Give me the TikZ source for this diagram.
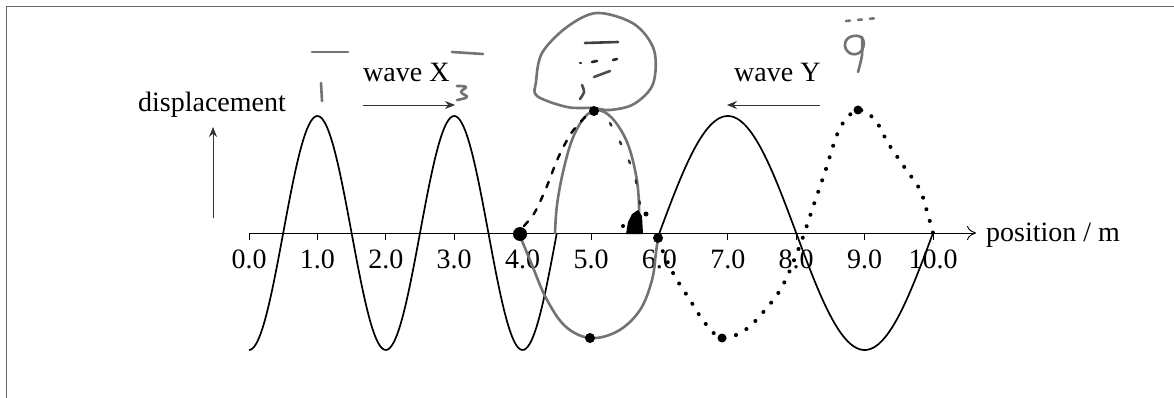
\documentclass[tikz,border=0pt]{standalone}
\usepackage{fontspec}
\setmainfont{Liberation Serif}
\usetikzlibrary{arrows.meta}
\begin{document}
\begin{tikzpicture}[x=1pt,y=-1pt,
  lbl/.style={inner sep=0pt, font=\fontsize{28}{32}\selectfont},
  wave/.style={line width=1.7pt, black},
  hand/.style={line width=2.6pt, black!55, line cap=round, line join=round},
  inkline/.style={line width=2.4pt, black, line cap=round},
  thinarrow/.style={line width=0.8pt, black!80, -{Stealth[length=10pt,width=8pt]}},
  blob/.style={fill=black, inner sep=0pt, circle},
]
\useasboundingbox (0,0) rectangle (1174,398);
% frame
\draw[black!60, line width=1pt] (6,410) -- (6,7) -- (1180,7);

% axis
\coordinate (ax0) at (249,233);
\coordinate (axend) at (976,233);
\draw[line width=0.9pt, -{To[length=9pt,width=14pt]}] (ax0) -- (axend);
\foreach \k in {0,...,10}{
  \draw[line width=0.8pt] ({249+68.4*\k},233) -- ++(0,7);
  \node[lbl, anchor=base] (t\k) at ({249+68.4*\k},268) {\k.0};
}
\node[lbl, anchor=base west] (pos) at (986,241) {position / m};

% displacement label and arrow
\node[lbl, anchor=base] (disp) at (212,112) {displacement};
\coordinate (dA) at (213,218);
\coordinate (dB) at (213,127);
\draw[thinarrow] (dA) -- (dB);

% wave labels and arrows
\node[lbl, anchor=base west] (wx) at (363,82) {wave X};
\node[lbl, anchor=base west] (wy) at (734,82) {wave Y};
\coordinate (xA) at (363,105);
\coordinate (xB) at (455,105);
\coordinate (yA) at (820,105);
\coordinate (yB) at (727,105);
\draw[thinarrow] (xA) -- (xB);
\draw[thinarrow] (yA) -- (yB);

% waves
\draw[wave] plot[domain=0:4.5, samples=160, smooth] ({249+68.4*\x},{233+117*cos(180*\x)});
\draw[wave] plot[domain=6:10, samples=120, smooth] ({249+68.4*\x},{233-117*sin(90*(\x-6))});

% hand-drawn marks: 1 and 3
\draw[hand] (312,52) -- (348,52);
\draw[hand] (321,83) -- (322,101);
\draw[hand] (452,52) -- (483,54);
\draw[hand] plot[smooth, tension=0.7] coordinates {(457,86) (466,87) (461,92) (467,97) (457,100)};

% head circle with marks
\draw[hand] plot[smooth cycle, tension=0.55] coordinates {(597,13) (634,24) (654,50) (653,84) (634,104) (610,110) (593,108) (567,107) (537,96) (536,82) (542,53) (567,27)};
\draw[hand, black!75] (585,43) -- (618,42);
\draw[hand, black!85] (580,63) -- (581,63);
\draw[hand, black!85] (592,62) -- (597,61);
\draw[hand, black!85] (613,60) -- (617,59);
\draw[hand, black!70] (594,77) -- (610,71);
\draw[hand, black!70] plot[smooth] coordinates {(582,85) (584,92) (580,99)};

% loop drawn over the middle
\draw[hand] plot[smooth, tension=0.6] coordinates {(555,233) (557,205) (563,172) (572,140) (584,118) (597,110) (612,118) (627,142) (636,175) (639,205) (638,233)};
\draw[hand] plot[smooth, tension=0.6] coordinates {(520,236) (532,265) (546,298) (565,326) (590,338) (618,331) (640,310) (652,280) (656,252) (658,238)};
\draw[inkline, dash pattern=on 6pt off 9pt] plot[smooth] coordinates {(524,226) (535,212) (547,186) (558,158) (572,132) (590,112)};
\draw[inkline, black!80, dash pattern=on 3pt off 18pt] plot[smooth] coordinates {(610,123) (625,152) (635,177) (640,205)};
\fill[black] (626,234) -- (628,222) -- (632,214) -- (638,210) -- (642,216) -- (643,234) -- cycle;
\fill[black] (646,214) circle (2.5);
\fill[black] (623,226) circle (2);

% dotted wave
\draw[line width=4pt, black, line cap=round, dash pattern=on 0.1pt off 12pt]
  plot[smooth, tension=0.6] coordinates {(658,240) (673,273) (690,300) (705,323) (722,338) (745,330) (765,310) (783,285) (800,245) (812,210) (825,172) (840,128) (858,110) (875,120) (888,143) (905,168) (920,190) (928,215) (933,233)};

% blobs
\node[blob, minimum size=14pt] (b1) at (520,234) {};
\node[blob, minimum size=10pt] (b2) at (590,338) {};
\node[blob, minimum size=10pt] (b3) at (658,238) {};
\node[blob, minimum size=9pt] (b4) at (722,338) {};
\node[blob, minimum size=9pt] (b5) at (858,110) {};
\node[blob, minimum size=10pt] (b6) at (594,111) {};

% 9 annotation
\draw[hand, dash pattern=on 4pt off 8pt] (846,21) -- (878,18);
\draw[hand] plot[smooth cycle, tension=0.8] coordinates {(862,38) (850,37) (845,46) (852,54) (862,50)};
\draw[hand] plot[smooth] coordinates {(862,37) (862,55) (858,72)};
\end{tikzpicture}
\end{document}
